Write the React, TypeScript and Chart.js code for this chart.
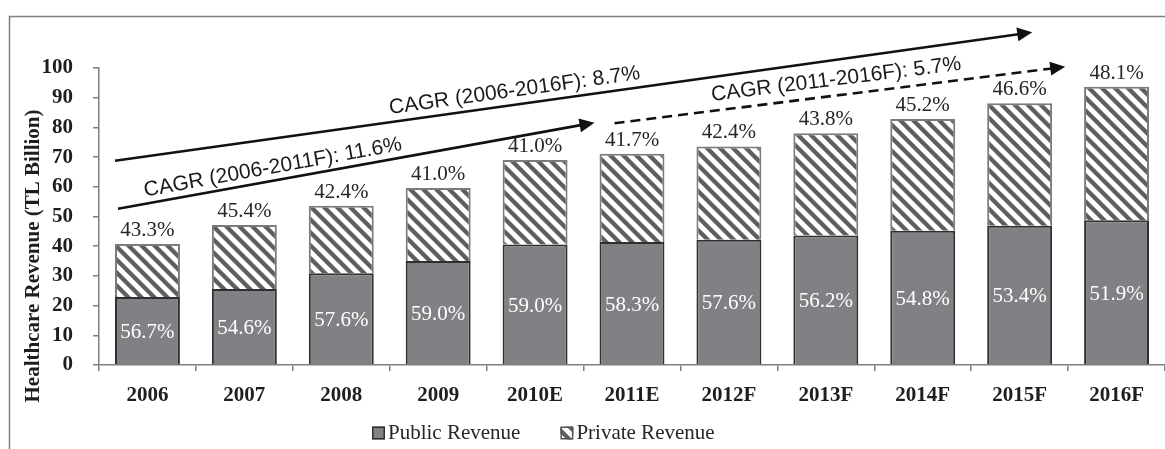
import React, { useEffect, useRef } from 'react';
import { Chart, registerables } from 'chart.js';

Chart.register(...registerables);

const categories = ['2006', '2007', '2008', '2009', '2010E', '2011E', '2012F', '2013F', '2014F', '2015F', '2016F'];
const publicRevenue = [22.9, 25.6, 30.9, 35.0, 40.6, 41.4, 42.2, 43.6, 45.2, 46.9, 48.7];
const privateRevenue = [17.8, 21.5, 22.7, 24.6, 28.4, 29.7, 31.4, 34.4, 37.6, 41.2, 45.0];
const publicShare = ['56.7%', '54.6%', '57.6%', '59.0%', '59.0%', '58.3%', '57.6%', '56.2%', '54.8%', '53.4%', '51.9%'];
const privateShare = ['43.3%', '45.4%', '42.4%', '41.0%', '41.0%', '41.7%', '42.4%', '43.8%', '45.2%', '46.6%', '48.1%'];
const seriesNames = ['Public Revenue', 'Private Revenue'];
const yAxisTitle = 'Healthcare Revenue (TL Billion)';

// CAGR annotations: text, and arrow ends in data coordinates [category index, value]
const cagrLabels = ['CAGR (2006-2016F): 8.7%', 'CAGR (2006-2011F): 11.6%', 'CAGR (2011-2016F): 5.7%'];
const cagrFrom = [[-0.335, 68.8], [-0.304, 52.6], [4.82, 81.4]];
const cagrTo = [[9.13, 112.0], [4.613, 81.6], [9.47, 100.4]];
const cagrDashed = [false, false, true];
const cagrTextAt = [[2.503, 84.5], [-0.025, 56.7], [5.826, 88.9]];

const SERIF = "'Liberation Serif', 'Times New Roman', serif";
const SANS = "'Liberation Sans', Arial, sans-serif";

function makeHatch(): CanvasPattern {
  const s = 13;
  const c = document.createElement('canvas');
  c.width = s;
  c.height = s;
  const g = c.getContext('2d')!;
  g.fillStyle = '#ffffff';
  g.fillRect(0, 0, s, s);
  g.strokeStyle = '#5e5e5e';
  g.lineWidth = 4.3;
  g.beginPath();
  g.moveTo(-2, -2);
  g.lineTo(s + 2, s + 2);
  g.moveTo(s - 2, -2);
  g.lineTo(s + 2, 2);
  g.moveTo(-2, s - 2);
  g.lineTo(2, s + 2);
  g.stroke();
  return g.createPattern(c, 'repeat')!;
}

function drawArrow(ctx: CanvasRenderingContext2D, x1: number, y1: number, x2: number, y2: number, dashed: boolean) {
  const ang = Math.atan2(y2 - y1, x2 - x1);
  const head = 15;
  const hw = 7;
  const cos = Math.cos(ang);
  const sin = Math.sin(ang);
  const bx = x2 - head * cos;
  const by = y2 - head * sin;
  ctx.setLineDash(dashed ? [10, 6] : []);
  ctx.beginPath();
  ctx.moveTo(x1, y1);
  ctx.lineTo(bx + 1 * cos, by + 1 * sin);
  ctx.stroke();
  ctx.setLineDash([]);
  ctx.beginPath();
  ctx.moveTo(x2, y2);
  ctx.lineTo(bx + hw * sin, by - hw * cos);
  ctx.lineTo(bx - hw * sin, by + hw * cos);
  ctx.closePath();
  ctx.fill();
}

export default function App() {
  const ref = useRef<HTMLCanvasElement>(null);

  useEffect(() => {
    const canvas = ref.current!;
    const hatch = makeHatch();
    let alive = true;

    const decor = {
      id: 'decor',
      beforeDraw(chart: any) {
        const ctx = chart.ctx as CanvasRenderingContext2D;
        ctx.save();
        ctx.fillStyle = '#ffffff';
        ctx.fillRect(0, 0, chart.width, chart.height);
        ctx.strokeStyle = '#7f7f7f';
        ctx.lineWidth = 1.5;
        ctx.beginPath();
        ctx.moveTo(chart.width + 5, 16.5);
        ctx.lineTo(9.5, 16.5);
        ctx.lineTo(9.5, chart.height + 5);
        ctx.stroke();
        ctx.restore();
      },
      afterDatasetsDraw(chart: any) {
        const ctx = chart.ctx as CanvasRenderingContext2D;
        const m0 = chart.getDatasetMeta(0);
        const m1 = chart.getDatasetMeta(1);
        ctx.save();
        ctx.font = `21px ${SERIF}`;
        ctx.textAlign = 'center';
        m0.data.forEach((bar: any, i: number) => {
          const { x, y, base } = bar.getProps(['x', 'y', 'base'], true);
          ctx.fillStyle = '#ffffff';
          ctx.textBaseline = 'middle';
          ctx.fillText(publicShare[i], x, (y + base) / 2 + 2);
        });
        m1.data.forEach((bar: any, i: number) => {
          const { x, y } = bar.getProps(['x', 'y'], true);
          ctx.fillStyle = '#262626';
          ctx.textBaseline = 'alphabetic';
          ctx.fillText(privateShare[i], x, y - 8);
        });
        ctx.restore();
      },
      afterDraw(chart: any) {
        const ctx = chart.ctx as CanvasRenderingContext2D;
        const xs = chart.scales.x;
        const ys = chart.scales.y;
        const px = (p: number[]) => [xs.getPixelForValue(p[0]), ys.getPixelForValue(p[1])];
        ctx.save();
        ctx.strokeStyle = '#111111';
        ctx.fillStyle = '#111111';
        ctx.lineWidth = 2.6;
        cagrLabels.forEach((label, i) => {
          const [x1, y1] = px(cagrFrom[i]);
          const [x2, y2] = px(cagrTo[i]);
          drawArrow(ctx, x1, y1, x2, y2, cagrDashed[i]);
          const ang = Math.atan2(y2 - y1, x2 - x1);
          const [tx, ty] = px(cagrTextAt[i]);
          ctx.save();
          ctx.translate(tx, ty);
          ctx.rotate(ang);
          ctx.font = `21px ${SANS}`;
          ctx.textAlign = 'left';
          ctx.textBaseline = 'alphabetic';
          ctx.fillStyle = '#1a1a1a';
          ctx.fillText(label, 0, 0);
          ctx.restore();
        });
        // Y axis title
        ctx.save();
        ctx.translate(34, 256);
        ctx.rotate(-Math.PI / 2);
        ctx.font = `bold 21px ${SERIF}`;
        ctx.textAlign = 'center';
        ctx.textBaseline = 'middle';
        ctx.fillStyle = '#1e1e1e';
        ctx.fillText(yAxisTitle, 0, 0);
        ctx.restore();
        // Legend
        ctx.font = `21px ${SERIF}`;
        ctx.textBaseline = 'middle';
        ctx.textAlign = 'left';
        let lx = 372;
        const ly = 433;
        const fills = [chart.data.datasets[0].backgroundColor, chart.data.datasets[1].backgroundColor];
        const borders = ['#2f2f2f', '#555555'];
        seriesNames.forEach((name, i) => {
          ctx.fillStyle = fills[i];
          ctx.fillRect(lx, ly - 6.5, 13, 13);
          ctx.strokeStyle = borders[i];
          ctx.lineWidth = 1.5;
          ctx.strokeRect(lx + 0.75, ly - 5.75, 11.5, 11.5);
          ctx.fillStyle = '#262626';
          ctx.fillText(name, lx + 16, ly);
          lx += 16 + ctx.measureText(name).width + 40;
        });
        ctx.restore();
      },
    };

    const tickFont = { family: SERIF, size: 21, weight: 'bold' as const };

    const chart = new Chart(canvas, {
      type: 'bar',
      data: {
        labels: categories,
        datasets: [
          {
            label: seriesNames[0],
            data: publicRevenue,
            backgroundColor: '#808184',
            borderColor: '#2f2f2f',
            borderWidth: 2,
          },
          {
            label: seriesNames[1],
            data: privateRevenue,
            backgroundColor: hatch as any,
            borderColor: '#7b7b7b',
            borderWidth: 2,
          },
        ],
      },
      options: {
        responsive: false,
        animation: false,
        layout: { padding: { top: 68, left: 0, right: 0, bottom: 0 } },
        datasets: { bar: { categoryPercentage: 1, barPercentage: 0.67 } },
        plugins: { legend: { display: false }, tooltip: { enabled: false } },
        scales: {
          x: {
            stacked: true,
            grid: { drawOnChartArea: false, tickLength: 6, color: '#7f7f7f', lineWidth: 1.5 },
            border: { color: '#7f7f7f', width: 1.5 },
            ticks: { padding: 12, font: tickFont, color: '#1e1e1e' },
            afterFit: (s: any) => { s.height = 84; },
          },
          y: {
            stacked: true,
            min: 0,
            max: 100,
            grid: { drawOnChartArea: false, tickLength: 6, color: '#7f7f7f', lineWidth: 1.5 },
            border: { color: '#7f7f7f', width: 1.5 },
            ticks: { stepSize: 10, padding: 20, font: tickFont, color: '#1e1e1e' },
            afterFit: (s: any) => { s.width = 99; },
          },
        },
      },
      plugins: [decor],
    });

    const fonts = (document as any).fonts;
    if (fonts && fonts.load) {
      Promise.all([
        fonts.load(`21px "Liberation Serif"`),
        fonts.load(`bold 21px "Liberation Serif"`),
        fonts.load(`21px "Liberation Sans"`),
      ]).then(() => { if (alive) chart.update(); }).catch(() => {});
    }

    return () => { alive = false; chart.destroy(); };
  }, []);

  return (
    <div style={{ position: 'absolute', left: 0, top: 0, width: 1165, height: 449, overflow: 'hidden' }}>
      <canvas ref={ref} width={1165} height={449} style={{ display: 'block' }} />
    </div>
  );
}
